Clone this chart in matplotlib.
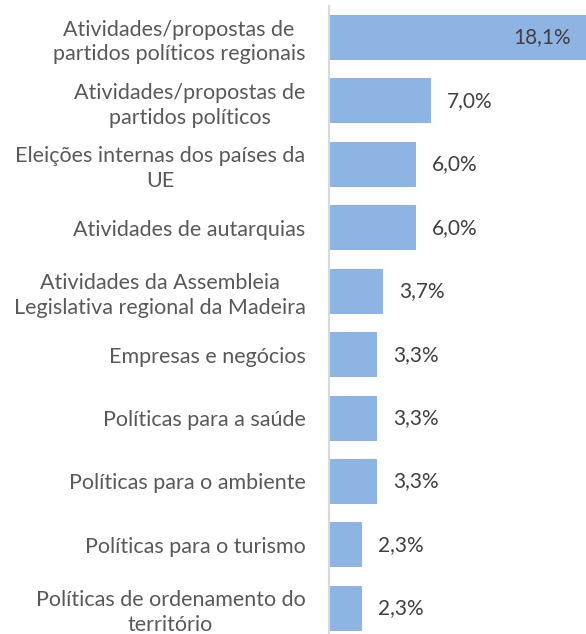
import matplotlib

matplotlib.use("Agg")
import matplotlib.pyplot as plt


CATEGORIES = [
    "Atividades/propostas de\npartidos políticos regionais",
    "Atividades/propostas de\npartidos políticos",
    "Eleições internas dos países da\nUE",
    "Atividades de autarquias",
    "Atividades da Assembleia\nLegislativa regional da Madeira",
    "Empresas e negócios",
    "Políticas para a saúde",
    "Políticas para o ambiente",
    "Políticas para o turismo",
    "Políticas de ordenamento do\nterritório",
]
VALUES = [18.1, 7.0, 6.0, 6.0, 3.7, 3.3, 3.3, 3.3, 2.3, 2.3]

BAR_COLOR = "#8EB4E3"
LABEL_COLOR = "#595959"
VALUE_COLOR = "#404040"
XMAX = 17.7

plt.rcParams["font.family"] = ["Lato", "DejaVu Sans"]

fig = plt.figure(figsize=(5.86, 6.34), dpi=100)
# plot area runs a little past the bottom edge, like the exported chart
ax = fig.add_axes([329 / 586, -6 / 634, 1 - 329 / 586, 634.2 / 634])

ypos = list(range(len(VALUES)))
ax.barh(ypos, VALUES, height=0.71, color=BAR_COLOR, zorder=2)
ax.set_xlim(0, XMAX)
ax.set_ylim(len(VALUES) - 0.5, -0.5)

for y, v in zip(ypos, VALUES):
    text = f"{v:.1f}%".replace(".", ",")
    if v > XMAX:
        ax.text(XMAX - 1.05, y, text, ha="right", va="center", fontsize=15, color=VALUE_COLOR)
    else:
        ax.text(v + 1.1, y, text, ha="left", va="center", fontsize=15, color=VALUE_COLOR)

ax.set_yticks(ypos)
ax.set_yticklabels(CATEGORIES, fontsize=15.5, color=LABEL_COLOR, ha="right",
                   multialignment="center", linespacing=1.3)
ax.tick_params(axis="y", length=0, pad=17)
ax.set_xticks([])
for side in ["top", "right", "bottom"]:
    ax.spines[side].set_visible(False)
ax.spines["left"].set_color("#D9D9D9")
ax.spines["left"].set_linewidth(1.5)

fig.savefig("out.png", dpi=100)
